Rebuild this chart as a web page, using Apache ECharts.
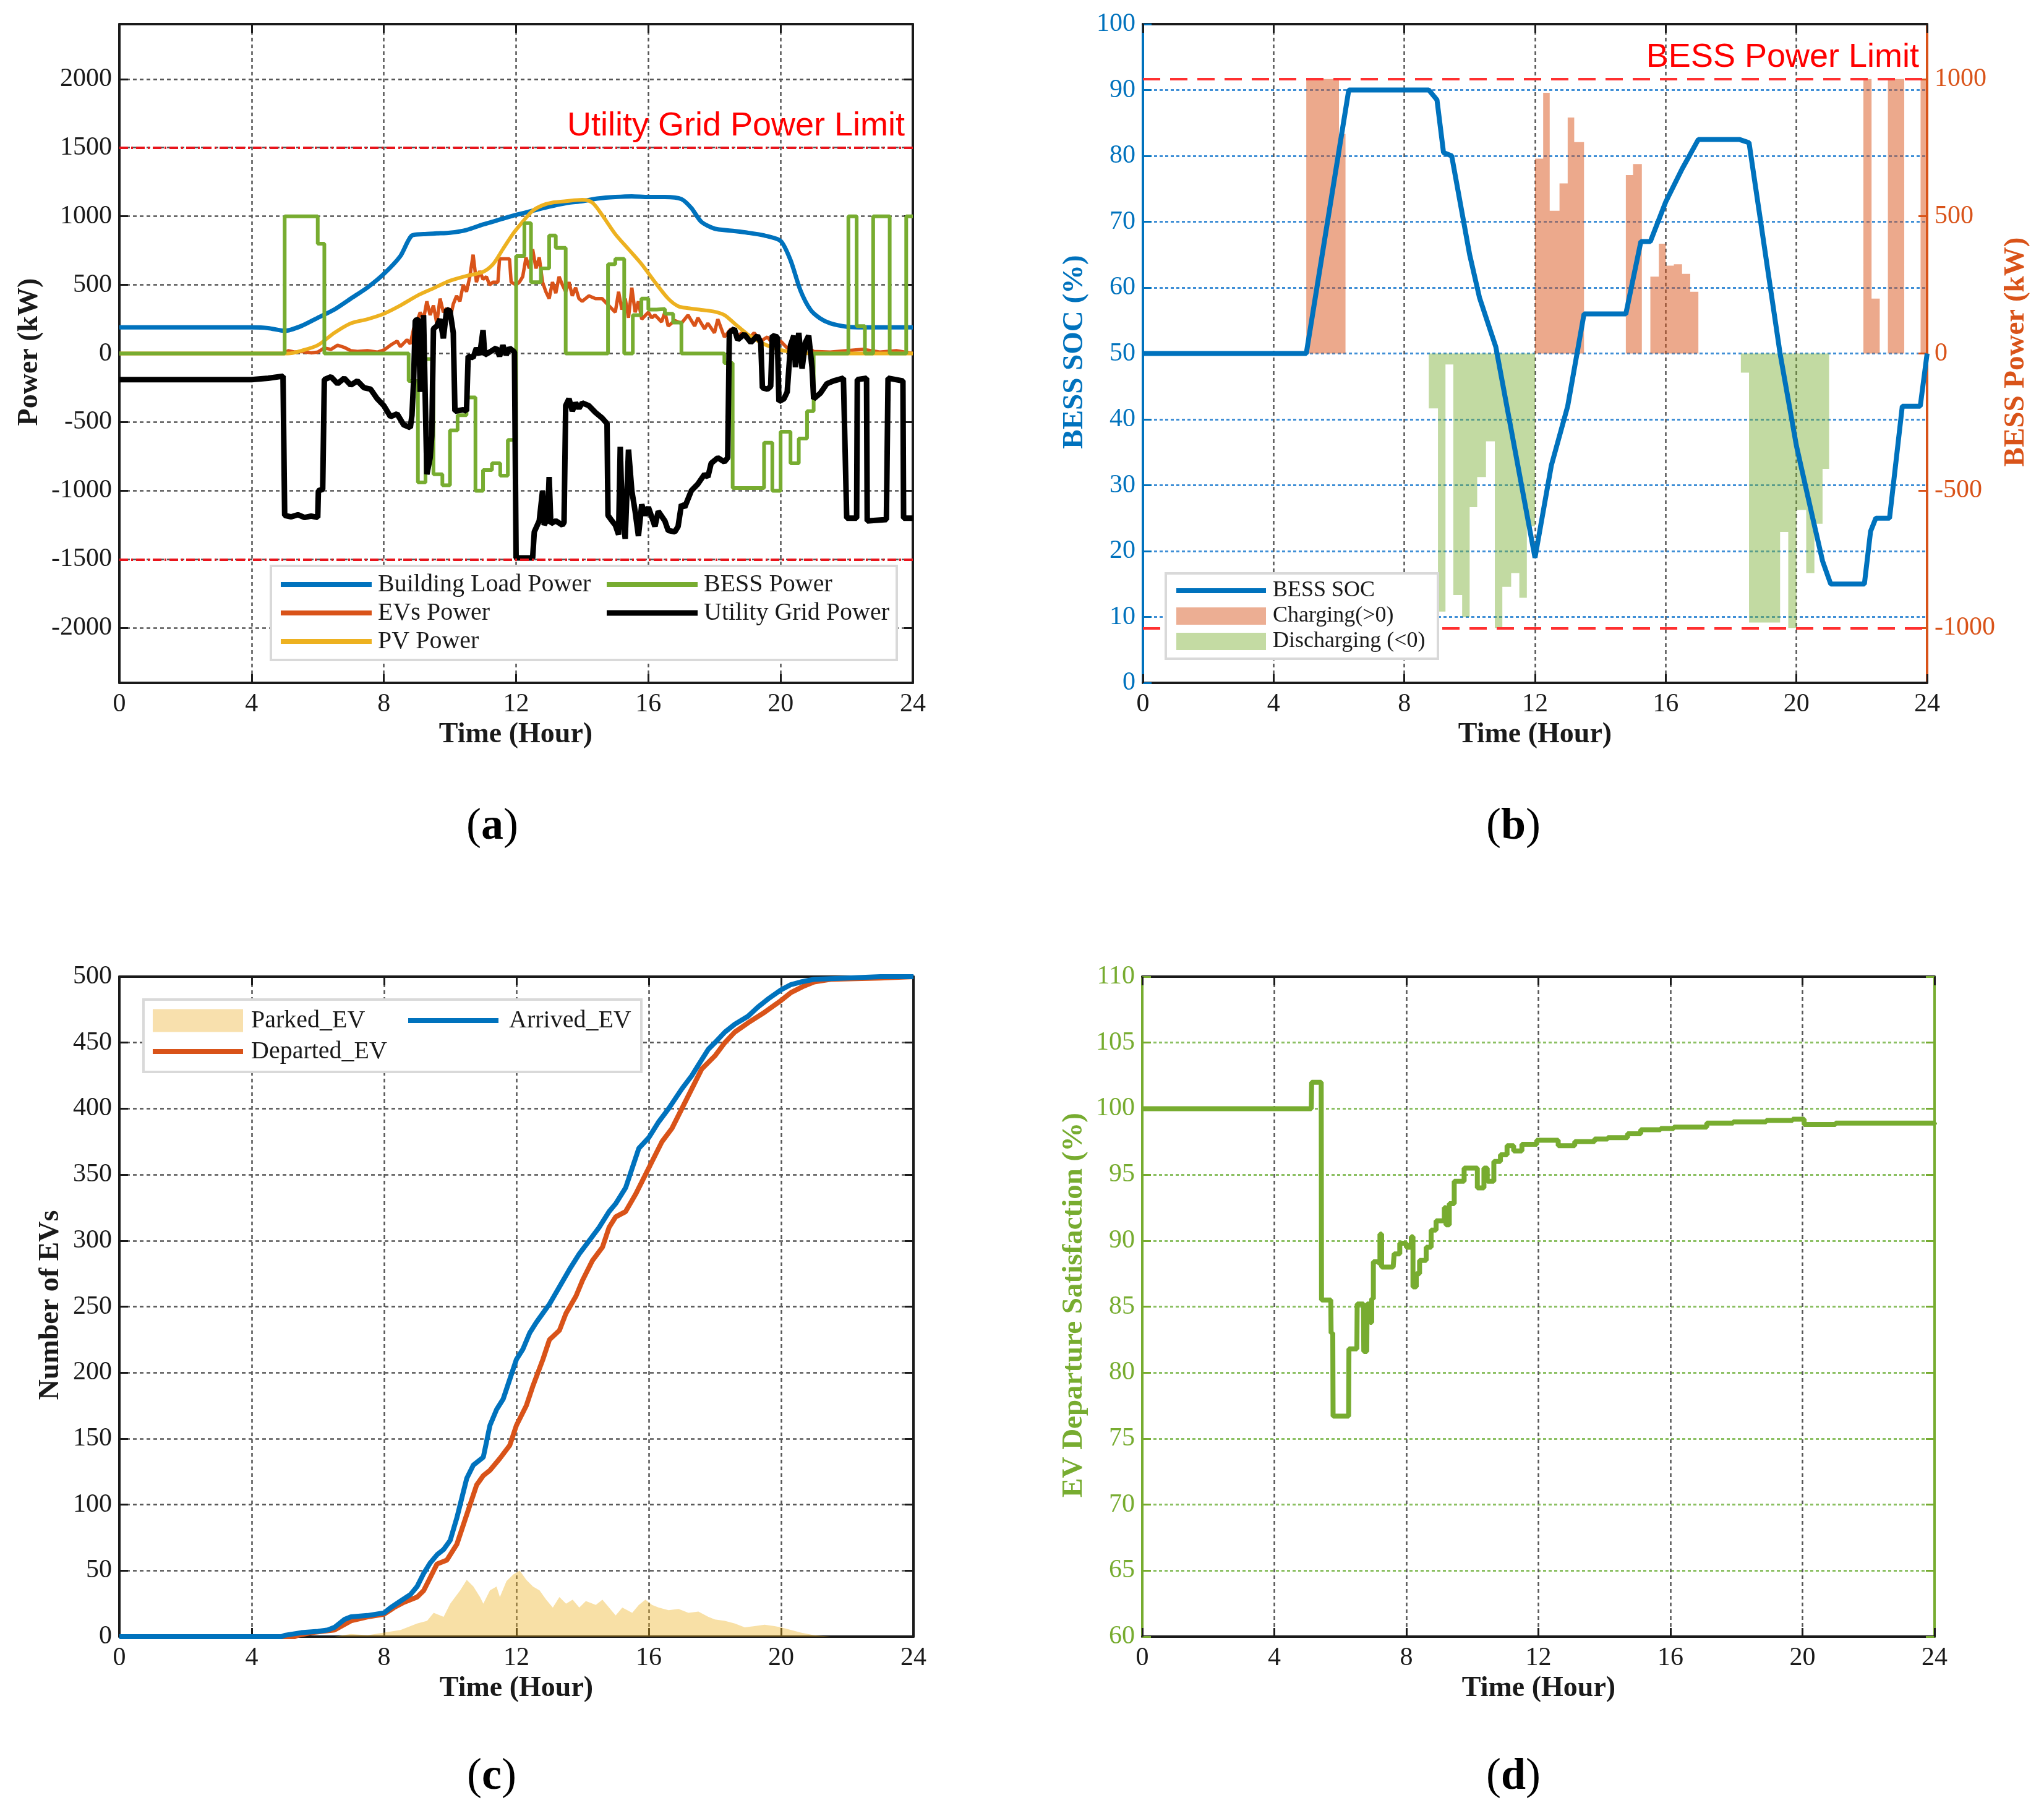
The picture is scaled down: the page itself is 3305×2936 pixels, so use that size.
<!DOCTYPE html>
<html><head><meta charset="utf-8">
<script src="https://cdn.jsdelivr.net/npm/echarts@6/dist/echarts.min.js"></script>
<style>html,body{margin:0;padding:0;background:#fff}#c{width:3305px;height:2936px}</style>
</head><body><div id="c"></div>
<script>
// ---------------- DATA ----------------
// Panel (a): power flows (kW) vs time (hour)
const loadT = [0,4,4.5,5,5.5,6,6.5,7,7.5,8, 8.5,8.85,9.2,9.6,10,10.5,11,11.5,12,12.5, 13,13.5,14,14.5,15,15.5,16,16.5,17,17.3, 17.6,18,18.5,19,19.5,20,20.3,20.6,20.9,21.2, 21.5,22,22.5,24];
const loadV = [190,190,185,165,200,260,320,400,480,580, 710,860,870,875,880,900,940,975,1010,1040, 1070,1095,1110,1130,1140,1145,1140,1140,1125,1060, 960,910,895,880,860,820,680,460,320,255, 220,195,190,190];

const evT = [0,5.0,5.1,5.3,5.5,5.8,6.0,6.2,6.4,6.6, 6.8,7.0,7.2,7.5,7.8,8.0,8.2,8.4,8.5,8.7, 8.8,8.9,9.0,9.1,9.2,9.3,9.4,9.5,9.6,9.7, 9.8,9.9,10.0,10.1,10.2,10.3,10.4,10.5,10.6,10.7, 10.8,10.9,11.0,11.1,11.2,11.3,11.45,11.5,11.8,11.85, 12.0,12.1,12.2,12.3,12.4,12.5,12.6,12.7,12.8,12.9, 13.0,13.1,13.2,13.3,13.4,13.5,13.6,13.7,13.8,13.9, 14.0,14.2,14.4,14.6,14.8,15.0,15.1,15.2,15.3,15.4, 15.5,15.6,15.7,15.8,16.0,16.1,16.2,16.4,16.5,16.6, 16.8,17.0,17.2,17.4,17.5,17.7,17.8,18.0,18.1,18.3, 18.5,18.7,18.9,19.0,19.2,19.4,19.6,19.8,20.0,20.2, 20.4,20.6,20.8,21.0,21.5,22.0,22.5,23.0,23.5,24];
const evV = [0,0,20,10,15,5,10,40,30,60, 45,20,15,20,10,25,60,90,50,100, 70,180,230,300,250,380,280,350,220,400, 300,330,250,360,420,380,500,450,560,720, 520,600,540,560,500,520,520,690,690,520, 500,520,560,700,620,760,620,700,520,450, 400,520,440,560,500,450,520,420,480,400, 380,420,400,400,350,300,450,320,400,260, 480,300,380,250,300,260,280,230,300,200, 240,220,280,200,260,180,220,150,250,120, 180,130,160,100,150,90,120,60,90,40, 70,30,50,15,10,20,30,10,20,0];

const pvT = [0,5.1,5.5,6,6.5,7,7.5,8,8.5,9,9.5,10,10.5,11,11.3,11.6,11.9,12.2,12.5,12.8,13.1,13.5,14,14.3,14.6,15,15.4,15.8,16.2,16.6,16.9,17.2,17.6,18,18.3,18.6,19,19.4,19.8,20.2,20.6,21,24];
const pvV = [0,0,20,60,150,220,250,290,350,420,475,530,565,595,650,760,870,960,1040,1080,1100,1110,1120,1100,1010,870,760,650,520,400,345,330,318,305,280,220,140,80,40,15,5,0,0];

// BESS power (kW), stairs: value holds from bessT[i] to bessT[i+1]
const bessT = [0,5.0,6.0,6.2,8.75,9.03,9.26,9.5,9.77,10.0, 10.23,10.5,10.77,11.0,11.27,11.52,11.75,12.0,12.25,12.45, 12.75,13.0,13.2,13.5,14.78,15.0,15.27,15.53,15.79,16.0, 16.25,16.5,16.75,17.0,18.3,18.55,19.5,19.75,20.0,20.3, 20.55,20.8,21.0,22.05,22.3,22.55,22.8,23.3,23.8,24];
const bessV = [0,1000,800,0,-200,-940,-40,-880,-960,-560, -450,-320,-1000,-850,-800,-890,-630,710,950,520, 620,860,770,0,650,690,0,280,400,320, 325,290,225,0,-70,-980,-650,-1000,-570,-800, -620,-420,0,1000,200,0,1000,0,1000,1000];

const gridT = [0,4.0,4.5,4.95,5.0,5.2,5.4,5.6,5.8,6.0, 6.02,6.15,6.2,6.4,6.6,6.8,7.0,7.2,7.4,7.6, 7.8,8.0,8.2,8.4,8.6,8.8,8.85,8.9,8.95,9.05, 9.1,9.2,9.3,9.4,9.45,9.5,9.6,9.7,9.8,9.9, 10.0,10.1,10.15,10.4,10.5,10.55,10.7,10.8,10.9,11.0, 11.05,11.2,11.4,11.5,11.6,11.7,11.8,11.95,12.0,12.5, 12.55,12.7,12.8,12.85,12.95,13.0,13.05,13.2,13.4,13.45, 13.5,13.6,13.7,13.8,13.9,14.0,14.2,14.4,14.6,14.75, 14.78,14.9,15.0,15.1,15.15,15.2,15.3,15.4,15.5,15.6, 15.7,15.8,15.9,16.0,16.2,16.3,16.5,16.6,16.8,16.9, 17.0,17.1,17.3,17.5,17.7,17.8,17.9,18.1,18.3,18.4, 18.45,18.6,18.7,18.9,19.1,19.3,19.4,19.45,19.6,19.7, 19.75,19.9,19.95,20.1,20.2,20.3,20.4,20.45,20.55,20.65, 20.75,20.85,20.95,21.0,21.2,21.4,21.6,21.9,22.0,22.3, 22.32,22.6,22.62,23.2,23.25,23.7,23.72,24];
const gridV = [-190,-190,-180,-165,-1180,-1190,-1175,-1195,-1185,-1195, -1000,-990,-190,-170,-220,-180,-230,-200,-250,-260, -330,-380,-460,-440,-520,-540,-450,-200,240,250, -280,280,-880,-760,-600,180,200,250,110,320, 310,150,-420,-410,-420,-20,-30,40,-10,170, -10,10,40,-20,60,-10,40,10,-1490,-1490, -1300,-1220,-1000,-1250,-1200,-900,-1240,-1220,-1250,-1230, -380,-330,-420,-360,-400,-360,-380,-430,-470,-510, -1180,-1220,-1250,-1320,-680,-1100,-1350,-700,-1000,-1150, -1330,-1100,-1180,-1120,-1260,-1150,-1220,-1290,-1300,-1260, -1100,-1120,-1000,-950,-880,-900,-800,-760,-790,-760, 150,180,100,140,80,130,80,-250,-260,-240, 130,120,-350,-330,-280,60,130,-100,150,-110, 80,130,-100,-330,-290,-220,-200,-180,-1200,-1200, -190,-180,-1220,-1210,-180,-200,-1200,-1200];

const gridLimit = [1500, -1500];
const bessLimit = [1000, -1000];

// Panel (b): BESS SOC (%)
const socT = [0,5.0,6.3,8.75,9.0,9.2,9.45,10.0,10.3,10.6, 10.8,12.0,12.5,13.0,13.5,14.78,15.24,15.53,16.0,16.5, 17.0,18.25,18.55,19.5,20.0,20.5,20.8,21.05,22.08,22.27, 22.43,22.85,23.24,23.79,24];
const socV = [50,50,90,90,88.5,80.5,80,65,58.5,54, 51,19,33,42,56,56,67,67,73,78, 82.5,82.5,82,50,36,25,18.5,15,15,23, 25,25,42,42,50];

// Panel (c): number of EVs
const arrT = [0,4.9,5.0,5.5,6.0,6.3,6.5,6.8,7.0,7.5,8.0, 8.2,8.5,8.8,9.0,9.2,9.4,9.6,9.8,10.0,10.2, 10.4,10.5,10.7,11.0,11.2,11.4,11.6,11.8,12.0,12.2, 12.4,12.6,12.8,13.0,13.3,13.6,13.9,14.2,14.5,14.8, 15.0,15.3,15.5,15.7,16.0,16.3,16.6,17.0,17.3,17.5, 17.8,18.0,18.3,18.6,19.0,19.3,19.6,20.0,20.3,20.6, 21.0,22.0,23.0,24];
const arrV = [0,0,1,3,4,5,7,13,15,16,18, 22,27,32,38,48,56,62,66,73,90, 110,120,130,136,160,172,180,195,210,218, 230,238,245,252,265,278,290,300,310,322, 328,340,355,370,378,390,400,415,425,433, 445,450,458,464,470,477,483,490,494,496, 498,499,500,500];
const depT = [0,5.3,5.4,5.8,6.5,7.0,7.5,8.0,8.3,8.6,9.0, 9.2,9.4,9.6,9.9,10.2,10.4,10.6,10.8,11.0,11.2, 11.5,11.8,12.0,12.3,12.5,12.8,13.0,13.3,13.5,13.8, 14.0,14.3,14.6,14.8,15.0,15.3,15.6,15.9,16.1,16.4, 16.7,17.0,17.3,17.6,18.0,18.3,18.6,19.0,19.5,20.0, 20.3,20.7,21.0,21.5,23.0,24];
const depV = [0,0,1,3,5,12,15,17,22,26,30, 35,45,55,58,70,85,100,115,122,126, 135,145,160,175,190,210,225,232,245,258, 270,285,295,310,318,322,335,350,360,375, 385,400,415,430,440,450,458,465,473,482, 488,493,496,498,499,500];
const parkT = [0,6.5,7,7.5,8,8.5,9,9.3,9.5,9.8, 10,10.3,10.5,10.7,10.9,11,11.2,11.4,11.5,11.7, 11.9,12.1,12.3,12.5,12.7,12.9,13.1,13.3,13.5,13.7, 13.9,14.1,14.4,14.6,14.8,15,15.2,15.5,15.7,15.9, 16.1,16.3,16.6,16.9,17.2,17.5,17.8,18,18.3,18.6, 18.9,19.2,19.5,19.8,20,20.3,20.6,21,21.5,24];
const parkV = [0,0,2,1,3,5,10,12,18,15, 25,35,43,38,30,25,35,38,30,42, 47,50,43,38,35,28,22,30,25,28, 22,27,24,28,22,16,22,18,24,28, 24,22,20,21,18,19,15,13,12,10, 7,8,9,8,7,5,3,1,0,0];

// Panel (d): EV departure satisfaction (%)
const satT = [0,5.12,5.13,5.42,5.43,5.71,5.72,5.77,5.78,6.25, 6.26,6.5,6.51,6.7,6.71,6.8,6.81,6.9,6.95,7.0, 7.15,7.2,7.25,7.3,7.6,7.63,7.8,8.0,8.15,8.2, 8.3,8.4,8.6,8.75,8.9,9.15,9.2,9.3,9.45,9.75, 10.05,10.15,10.35,10.45,10.65,10.85,11.05,11.25,11.5,11.95, 12.45,12.6,12.9,13.1,13.7,14.1,14.7,15.1,15.7,16.1, 17.1,17.9,18.9,19.7,20.05,21,22,24];
const satV = [100,100,102,102,85.5,85.5,83,83,76.7,76.7, 81.8,81.8,85.2,85.2,81.6,81.8,85.2,83.8,85.6,88.4, 88.3,90.5,88,88,88,89,89.8,89.5,90.3,86.5, 87.5,88.5,89.5,90.8,91.5,92.5,91.2,92.8,94.5,95.5, 95.5,94,95.5,94.5,96,96.5,97.2,96.8,97.3,97.6, 97.6,97.2,97.2,97.5,97.7,97.8,98.1,98.4,98.5,98.6, 98.9,99,99.1,99.2,98.8,98.9,98.9,98.8];

// tick values
const hourTicks = [0,4,8,12,16,20,24];
const powerTicksA = [-2000,-1500,-1000,-500,0,500,1000,1500,2000];
const powerTicksB = [-1000,-500,0,500,1000];

// names
const namesA = ['Building Load Power','EVs Power','PV Power','BESS Power','Utility Grid Power'];
const namesB = ['BESS SOC','Charging(>0)','Discharging (<0)'];
const namesC = ['Parked_EV','Departed_EV','Arrived_EV'];

// ---------------- STYLE ----------------
const SERIF = '"Liberation Serif","Times New Roman",serif';
const SANS = '"Liberation Sans",Arial,sans-serif';
const C = {blue:'#0072BD', orange:'#D95319', yellow:'#EDB120', green:'#77AC30', black:'#000000'};
const AX = '#1a1a1a';
const zip = (t, v) => t.map((x, i) => [x, v[i]]);
const plain = v => String(v);

const grids = [
  {left:193, top:39, width:1283, height:1065},
  {left:1848, top:39, width:1268, height:1065},
  {left:193, top:1579, width:1284, height:1067},
  {left:1847, top:1579, width:1281, height:1067}
];

const xAxes = [];
grids.forEach((g, i) => {
  xAxes.push({type:'value', gridIndex:i, position:'bottom', min:0, max:24, interval:4,
    axisLine:{show:true, onZero:false, lineStyle:{color:AX, width:4}},
    axisTick:{show:true, inside:true, length:14, lineStyle:{color:AX, width:3}},
    axisLabel:{show:true, margin:14, fontSize:42, fontFamily:SERIF, color:AX, showMinLabel:true, showMaxLabel:true, formatter:plain},
    splitLine:{show:true, lineStyle:{color:'#555', width:2.5, type:[6,5]}}});
  xAxes.push({type:'value', gridIndex:i, position:'top', min:0, max:24, interval:4,
    axisLine:{show:true, onZero:false, lineStyle:{color:AX, width:4}},
    axisTick:{show:true, inside:true, length:14, lineStyle:{color:AX, width:3}},
    axisLabel:{show:false}, splitLine:{show:false}});
});

function yAx(gi, pos, min, max, interval, color, labelShow, split, splitColor, custom) {
  const o = {type:'value', gridIndex:gi, position:pos, min:min, max:max, interval:interval,
    axisLine:{show:true, onZero:false, lineStyle:{color:color, width:4}},
    axisTick:{show:true, inside:true, length:14, lineStyle:{color:color, width:3}},
    axisLabel:{show:labelShow, margin:12, fontSize:42, fontFamily:SERIF, color:color, showMinLabel:true, showMaxLabel:true, formatter:plain},
    splitLine:{show:split, lineStyle:{color:splitColor || '#555', width:2.5, type:[6,5]}}};
  if (custom) { o.axisTick.customValues = custom; o.axisLabel.customValues = custom; }
  return o;
}
const yAxes = [
  yAx(0,'left',-2400,2400,100,AX,true,true,'#555',powerTicksA),
  yAx(0,'right',-2400,2400,100,AX,false,false,null,powerTicksA),
  yAx(1,'left',0,100,10,C.blue,true,true,'#3f8fd6'),
  yAx(1,'right',-1200,1200,100,C.orange,true,false,null,powerTicksB),
  yAx(2,'left',0,500,50,AX,true,true,'#555'),
  yAx(2,'right',0,500,50,AX,false,false),
  yAx(3,'left',60,110,5,C.green,true,true,'#8cc063'),
  yAx(3,'right',60,110,5,C.green,false,false)
];
yAxes[2].splitLine.lineStyle = {color:'#3f8fd6', width:3, type:[5,4]};
yAxes[6].splitLine.lineStyle = {color:'#8cc063', width:3, type:[5,4]};

const base = {showSymbol:false, symbol:'none', animation:false};
const series = [
  // (a)
  Object.assign({type:'line', name:namesA[0], xAxisIndex:0, yAxisIndex:0, data:zip(loadT, loadV), smooth:0.25,
    lineStyle:{color:C.blue, width:7}}, base),
  Object.assign({type:'line', name:namesA[1], xAxisIndex:0, yAxisIndex:0, data:zip(evT, evV),
    lineStyle:{color:C.orange, width:5.5}}, base),
  Object.assign({type:'line', name:namesA[2], xAxisIndex:0, yAxisIndex:0, data:zip(pvT, pvV), smooth:0.3,
    lineStyle:{color:C.yellow, width:6}}, base),
  Object.assign({type:'line', name:namesA[3], xAxisIndex:0, yAxisIndex:0, data:zip(bessT, bessV), step:'end',
    lineStyle:{color:C.green, width:6}}, base),
  Object.assign({type:'line', name:namesA[4], xAxisIndex:0, yAxisIndex:0, data:zip(gridT, gridV),
    lineStyle:{color:C.black, width:9},
    markLine:{silent:true, symbol:'none', label:{show:false}, animation:false,
      lineStyle:{color:'#e8141b', width:4, type:[14,5,3,5]},
      data:gridLimit.map(v => ({yAxis:v}))}}, base),
  // (b)
  Object.assign({type:'line', name:namesB[0], xAxisIndex:2, yAxisIndex:2, data:zip(socT, socV),
    lineStyle:{color:C.blue, width:8}}, base),
  Object.assign({type:'line', name:namesB[1], xAxisIndex:2, yAxisIndex:3, step:'end',
    data:zip(bessT, bessV.map(v => v > 0 ? v : 0)),
    lineStyle:{width:0}, areaStyle:{color:C.orange, opacity:0.5},
    markLine:{silent:true, symbol:'none', label:{show:false}, animation:false,
      lineStyle:{color:'#ff3030', width:4, type:[28,16]},
      data:bessLimit.map(v => ({yAxis:v}))}}, base),
  Object.assign({type:'line', name:namesB[2], xAxisIndex:2, yAxisIndex:3, step:'end',
    data:zip(bessT, bessV.map(v => v < 0 ? v : 0)),
    lineStyle:{width:0}, areaStyle:{color:C.green, opacity:0.45}}, base),
  // (c)
  Object.assign({type:'line', name:namesC[0], xAxisIndex:4, yAxisIndex:4, data:zip(parkT, parkV),
    lineStyle:{width:0}, areaStyle:{color:C.yellow, opacity:0.4}}, base),
  Object.assign({type:'line', name:namesC[1], xAxisIndex:4, yAxisIndex:4, data:zip(depT, depV),
    lineStyle:{color:C.orange, width:8}}, base),
  Object.assign({type:'line', name:namesC[2], xAxisIndex:4, yAxisIndex:4, data:zip(arrT, arrV),
    lineStyle:{color:C.blue, width:8}}, base),
  // (d)
  Object.assign({type:'line', name:'EV Departure Satisfaction', xAxisIndex:6, yAxisIndex:6, data:zip(satT, satV), step:'end',
    lineStyle:{color:C.green, width:8}}, base)
];

// ---------------- GRAPHICS (titles, legends, labels) ----------------
function txt(x, y, s, o) {
  return Object.assign({type:'text', x:x, y:y, z:100, style:Object.assign({text:s, fontSize:42, fontFamily:SERIF, fill:AX, align:'center', verticalAlign:'middle'}, o || {})});
}
function rotTxt(x, y, s, fill, size) {
  return {type:'text', x:x, y:y, z:100, rotation:Math.PI/2,
    style:{text:s, fontSize:size, fontWeight:'bold', fontFamily:SERIF, fill:fill, align:'center', verticalAlign:'middle'}};
}
function box(x0, y0, x1, y1) { return {type:'rect', z:100, shape:{x:x0, y:y0, width:x1-x0, height:y1-y0}, style:{fill:'#fff', stroke:'#d9d9d9', lineWidth:4}}; }
function lline(x0, x1, y, color, w) { return {type:'line', z:101, shape:{x1:x0, y1:y, x2:x1, y2:y}, style:{stroke:color, lineWidth:w}}; }
function patch(x0, x1, y, h, color) { return {type:'rect', z:101, shape:{x:x0, y:y-h/2, width:x1-x0, height:h}, style:{fill:color}}; }
function ltxt(x, y, s, fs) { return {type:'text', x:x, y:y, z:101, style:{text:s, fontSize:fs, fontFamily:SERIF, fill:AX, align:'left', verticalAlign:'middle'}}; }
function panelLabel(x, y, ch) {
  return {type:'text', x:x, y:y, z:100, style:{text:'{p|(}{b|' + ch + '}{p|)}', align:'center', verticalAlign:'middle',
    rich:{p:{fontSize:72, fontFamily:SERIF, fill:'#000'}, b:{fontSize:72, fontFamily:SERIF, fontWeight:'bold', fill:'#000'}}}};
}

const graphics = [
  // axis titles
  rotTxt(48, 569, 'Power (kW)', AX, 46),
  txt(834, 1188, 'Time (Hour)', {fontSize:46, fontWeight:'bold'}),
  rotTxt(1738, 569, 'BESS SOC (%)', C.blue, 47),
  rotTxt(3260, 569, 'BESS Power (kW)', C.orange, 47),
  txt(2482, 1188, 'Time (Hour)', {fontSize:46, fontWeight:'bold'}),
  rotTxt(82, 2110, 'Number of EVs', AX, 46),
  txt(835, 2730, 'Time (Hour)', {fontSize:46, fontWeight:'bold'}),
  rotTxt(1737, 2110, 'EV Departure Satisfaction (%)', C.green, 47),
  txt(2488, 2730, 'Time (Hour)', {fontSize:46, fontWeight:'bold'}),
  // limit annotations
  {type:'text', x:1463, y:204, z:100, style:{text:'Utility Grid Power Limit', fontSize:54, fontFamily:SANS, fill:'#ff0000', align:'right', verticalAlign:'middle'}},
  {type:'text', x:3103, y:93, z:100, style:{text:'BESS Power Limit', fontSize:54, fontFamily:SANS, fill:'#ff0000', align:'right', verticalAlign:'middle'}},
  // legend (a)
  box(438, 915, 1450, 1067),
  lline(454, 601, 945, C.blue, 8), ltxt(611, 945, namesA[0], 40),
  lline(454, 601, 991, C.orange, 8), ltxt(611, 991, namesA[1], 40),
  lline(454, 601, 1037, C.yellow, 8), ltxt(611, 1037, namesA[2], 40),
  lline(981, 1128, 945, C.green, 8), ltxt(1138, 945, namesA[3], 40),
  lline(981, 1128, 991, C.black, 9), ltxt(1138, 991, namesA[4], 40),
  // legend (b)
  box(1885, 927, 2325, 1065),
  lline(1902, 2047, 955, C.blue, 8), ltxt(2058, 955, namesB[0], 36),
  patch(1902, 2047, 996, 28, '#ecae93'), ltxt(2058, 996, namesB[1], 36),
  patch(1902, 2047, 1037, 28, '#c4dba3'), ltxt(2058, 1037, namesB[2], 36),
  // legend (c)
  box(232, 1616, 1037, 1733),
  patch(247, 393, 1650, 37, '#f8e0ad'), ltxt(406, 1650, namesC[0], 40),
  lline(247, 393, 1700, C.orange, 8), ltxt(406, 1700, namesC[1], 40),
  lline(660, 806, 1650, C.blue, 8), ltxt(823, 1650, namesC[2], 40),
  // panel labels
  panelLabel(796, 1337, 'a'),
  panelLabel(2447, 1337, 'b'),
  panelLabel(795, 2873, 'c'),
  panelLabel(2447, 2873, 'd')
];

const chart = echarts.init(document.getElementById('c'), null, {renderer:'canvas'});
chart.setOption({
  animation:false,
  backgroundColor:'#ffffff',
  grid:grids,
  xAxis:xAxes,
  yAxis:yAxes,
  series:series,
  graphic:graphics
});
</script></body></html>
